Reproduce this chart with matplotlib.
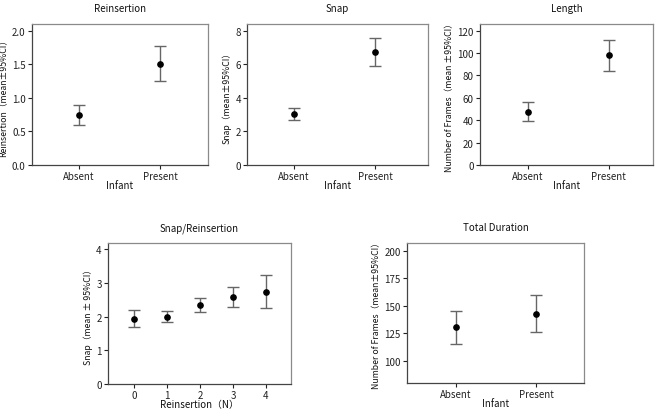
import numpy as np
import matplotlib
matplotlib.use("Agg")
import matplotlib.pyplot as plt

plt.rcParams['font.family'] = ['Noto Sans CJK JP', 'DejaVu Sans']

infant_groups = ["Absent", "Present"]

reins_mean = [0.75, 1.50]
reins_low = [0.60, 1.25]
reins_high = [0.90, 1.77]

snap_mean = [3.05, 6.72]
snap_low = [2.68, 5.90]
snap_high = [3.42, 7.58]

length_mean = [47, 98]
length_low = [39, 84]
length_high = [56, 112]

reins_n = [0, 1, 2, 3, 4]
sr_mean = [1.93, 2.00, 2.34, 2.58, 2.74]
sr_low = [1.68, 1.84, 2.13, 2.27, 2.25]
sr_high = [2.19, 2.16, 2.55, 2.89, 3.23]

dur_mean = [130.5, 142.5]
dur_low = [115.5, 126.5]
dur_high = [145.0, 159.5]

W, H = 661, 410
fig = plt.figure(figsize=(W / 100, H / 100), dpi=100)


def make_ax(x0, y0, x1, y1):
    # pixel box -> figure fraction
    return fig.add_axes([x0 / W, (H - y1) / H, (x1 - x0) / W, (y1 - y0) / H])


def style(ax, title, ylabel, xlabel, title_pad=9):
    for s in ['left', 'bottom']:
        ax.spines[s].set_color('#444444')
    for s in ['top', 'right']:
        ax.spines[s].set_color('#8a8a8a')
    for s in ax.spines.values():
        s.set_linewidth(0.9)
    ax.tick_params(direction='out', length=3, width=0.8, colors='#222222',
                   labelsize=7, pad=1.5)
    ax.set_title(title, fontsize=7, pad=title_pad, color='#111111')
    ax.set_ylabel(ylabel, fontsize=6.3, labelpad=2.5, color='#111111')
    ax.set_xlabel(xlabel, fontsize=7, labelpad=-1, color='#111111')


def draw(ax, x, mean, low, high):
    mean = np.array(mean, dtype=float)
    err = np.vstack([mean - np.array(low), np.array(high) - mean])
    ax.errorbar(x, mean, yerr=err, fmt='o', color='black', markersize=3.8,
                ecolor='#666666', elinewidth=1.0, capsize=4, capthick=1.0)


xpos = np.arange(len(infant_groups))

# Reinsertion
ax1 = make_ax(32, 25, 208, 166)
draw(ax1, xpos, reins_mean, reins_low, reins_high)
ax1.set_xlim(-0.58, 1.59)
ax1.set_ylim(0, 2.1)
ax1.set_yticks([0.0, 0.5, 1.0, 1.5, 2.0])
ax1.set_yticklabels(["0.0", "0.5", "1.0", "1.5", "2.0"])
ax1.set_xticks(xpos)
ax1.set_xticklabels(infant_groups)
style(ax1, "Reinsertion", "Reinsertion（mean±95%CI）", "Infant")

# Snap
ax2 = make_ax(247, 25, 428, 166)
draw(ax2, xpos, snap_mean, snap_low, snap_high)
ax2.set_xlim(-0.58, 1.65)
ax2.set_ylim(0, 8.4)
ax2.set_yticks([0, 2, 4, 6, 8])
ax2.set_xticks(xpos)
ax2.set_xticklabels(infant_groups)
style(ax2, "Snap", "Snap（mean±95%CI）", "Infant")

# Length
ax3 = make_ax(480, 25, 653, 166)
draw(ax3, xpos, length_mean, length_low, length_high)
ax3.set_xlim(-0.59, 1.55)
ax3.set_ylim(0, 126)
ax3.set_yticks([0, 20, 40, 60, 80, 100, 120])
ax3.set_xticks(xpos)
ax3.set_xticklabels(infant_groups)
style(ax3, "Length", "Number of Frames（mean ±95%CI）", "Infant")

# Snap/Reinsertion
ax4 = make_ax(108, 244, 291, 385)
draw(ax4, reins_n, sr_mean, sr_low, sr_high)
ax4.set_xlim(-0.79, 4.76)
ax4.set_ylim(0, 4.18)
ax4.set_yticks([0, 1, 2, 3, 4])
ax4.set_xticks(reins_n)
style(ax4, "Snap/Reinsertion", "Snap（mean ± 95%CI）", "Reinsertion（N）")

# Total Duration
ax5 = make_ax(407, 244, 584, 384)
draw(ax5, xpos, dur_mean, dur_low, dur_high)
ax5.set_xlim(-0.61, 1.6)
ax5.set_ylim(80, 207)
ax5.set_yticks([100, 125, 150, 175, 200])
ax5.set_xticks(xpos)
ax5.set_xticklabels(infant_groups)
style(ax5, "Total Duration", "Number of Frames（mean±95%CI）", "Infant")

fig.savefig("out.png", dpi=100)
